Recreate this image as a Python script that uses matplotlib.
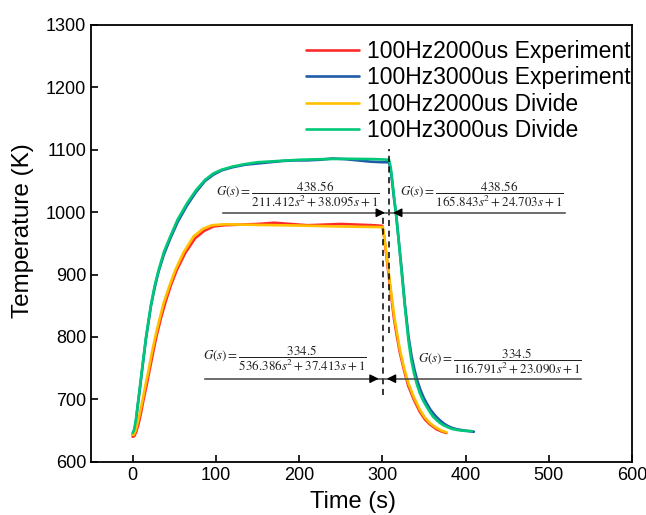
import matplotlib
matplotlib.use("Agg")
import matplotlib.pyplot as plt

plt.rcParams["font.family"] = ["Liberation Sans", "DejaVu Sans"]
plt.rcParams["mathtext.fontset"] = "stix"

# --- data ---
t_exp_2000 = [0, 2, 4, 7, 10, 13, 17, 21, 25, 29, 34, 39.5, 46, 53, 63, 75, 86, 97, 110, 130,
              150, 170, 190, 210, 230, 250, 270, 290, 300, 302, 304, 306.5, 309, 311.5, 314,
              317.5, 321, 326, 331, 338, 345, 351, 357, 361, 365, 371, 377]
T_exp_2000 = [640, 641, 647, 660, 678, 699, 724, 751, 778, 803, 830, 856, 883, 907, 934, 958,
              970, 977, 979, 980, 981, 983, 981, 979, 980, 981, 980, 979, 978, 962, 940, 912,
              884, 856, 829, 801, 775, 747, 722, 699, 680, 668, 660, 656, 652, 648.5, 646]

t_exp_3000 = [0, 2, 4, 6, 8.5, 11, 13.5, 16, 19, 22, 26.5, 31, 37.5, 45, 54, 65, 76, 87, 97,
              107, 120, 135, 150, 165, 180, 195, 210, 225, 240, 255, 270, 285, 300, 308, 310,
              312, 314, 316.5, 320, 323.5, 327, 331.5, 335, 338.5, 342, 345.5, 349.5, 353.5,
              357.5, 361.5, 365.5, 369.5, 374, 379, 384, 389.5, 398, 410]
T_exp_3000 = [643, 650, 665, 689, 715, 743, 770, 797, 823, 850, 879, 904, 932, 957, 984, 1010,
              1032, 1050, 1060, 1067, 1072, 1076, 1078, 1080, 1082, 1083, 1083, 1084, 1086,
              1085, 1083, 1081, 1080, 1080, 1068, 1046, 1022, 997, 950, 904, 853, 800, 770,
              748, 730, 716, 703, 693, 684, 677, 671, 666, 661, 657, 654, 652, 650, 648]

t_div_2000 = [0, 1.2, 3, 5, 8, 11.2, 15, 19.2, 23, 27.2, 32, 37.2, 44, 51.2, 61, 73.2, 84,
              95.3, 110, 130, 150, 200, 250, 300.5, 302, 304.4, 306.8, 309.2, 311.8, 314.4,
              317.8, 321.2, 326, 331.2, 338, 345.2, 351, 357.2, 361, 365.3, 371, 377.3]
T_div_2000 = [643, 643, 648, 657, 674, 694, 720, 747, 774, 800, 827, 854, 881, 907, 935, 961,
              973, 979, 980.5, 980, 979.5, 978.5, 977, 976, 962, 939, 912, 886, 859, 832, 805,
              779, 751, 726, 703, 683, 671, 662, 658, 654, 650, 647]

t_div_3000 = [0, 2, 4, 6.4, 8.8, 11.2, 13.6, 16.1, 19, 22.4, 26.5, 31.2, 37.5, 45.2, 54, 65.3,
              76, 87.2, 97, 107, 120, 135, 150, 175, 201, 230, 260, 290, 308, 310, 312, 314,
              316.4, 320, 323.3, 327, 331.3, 334.5, 338, 341.5, 345, 349, 353.3, 357, 361, 365,
              369.3, 374, 379, 384, 389.3, 398, 407.3]
T_div_3000 = [646, 652, 668, 694, 720, 747, 773, 800, 826, 854, 882, 907, 936, 961, 988, 1014,
              1035, 1052, 1062, 1068, 1073, 1077, 1080, 1082, 1084, 1085, 1085.5, 1085, 1084,
              1072, 1050, 1025, 998, 950, 902, 850, 795, 765, 742, 724, 710, 698, 688, 680,
              672, 667, 662, 658, 655, 652.5, 651, 649.5, 649]

labels = ["100Hz2000us Experiment", "100Hz3000us Experiment",
          "100Hz2000us Divide", "100Hz3000us Divide"]
colors = ["#ff2a2a", "#1f5ca8", "#ffc000", "#00c878"]

# transfer functions noted on the chart
eq_texts = [
    r"$G(s)=\dfrac{438.56}{211.412s^2+38.095s+1}$",
    r"$G(s)=\dfrac{438.56}{165.843s^2+24.703s+1}$",
    r"$G(s)=\dfrac{334.5}{536.386s^2+37.413s+1}$",
    r"$G(s)=\dfrac{334.5}{116.791s^2+23.090s+1}$",
]

fig = plt.figure(figsize=(6.46, 5.15), dpi=100)
ax = fig.add_axes([0.1409, 0.1035, 0.8375, 0.848])

series = [(t_exp_2000, T_exp_2000), (t_exp_3000, T_exp_3000),
          (t_div_2000, T_div_2000), (t_div_3000, T_div_3000)]
for (t, T), c, lab in zip(series, colors, labels):
    ax.plot(t, T, color=c, lw=1.9, label=lab, solid_capstyle="round",
            solid_joinstyle="round")

# dashed markers at the switch-off times
ax.plot([308, 308], [806, 1102], color="k", ls=(0, (4, 3)), lw=1.1)
ax.plot([300.5, 300.5], [707, 995], color="k", ls=(0, (4, 3)), lw=1.1)

# horizontal reference lines under the equations
ax.plot([109, 519], [999, 999], color="#444444", lw=1.1)
ax.plot([87, 539], [733, 733], color="#444444", lw=1.1)

arrow = dict(arrowstyle="-|>", color="k", lw=1.0, mutation_scale=13)
ax.annotate("", xy=(306.5, 999), xytext=(292, 999), arrowprops=arrow)
ax.annotate("", xy=(309.5, 999), xytext=(324, 999), arrowprops=arrow)
ax.annotate("", xy=(299, 733), xytext=(285, 733), arrowprops=arrow)
ax.annotate("", xy=(302, 733), xytext=(316, 733), arrowprops=arrow)

eq_pos = [(199, 1029), (420, 1029), (183, 766), (441, 760)]
for (x, y), s in zip(eq_pos, eq_texts):
    ax.text(x, y, s, fontsize=9.4, ha="center", va="center", color="#222222")

ax.set_xlim(-50, 600)
ax.set_ylim(600, 1300)
ax.set_xticks(range(0, 601, 100))
ax.set_yticks(range(600, 1301, 100))
ax.tick_params(direction="in", length=5, width=1.2, labelsize=13, top=False, right=False)
for sp in ax.spines.values():
    sp.set_linewidth(1.3)

ax.set_xlabel("Time (s)", fontsize=17)
ax.set_ylabel("Temperature (K)", fontsize=17.5)
ax.xaxis.set_label_coords(0.485, -0.068)
ax.yaxis.set_label_coords(-0.106, 0.53)

ax.legend(loc="upper left", bbox_to_anchor=(0.37, 1.0), frameon=False, fontsize=16.5,
          handlelength=2.3, handletextpad=0.35, labelspacing=0.15, borderaxespad=0.25)

plt.savefig("out.png", dpi=100)
plt.close()
